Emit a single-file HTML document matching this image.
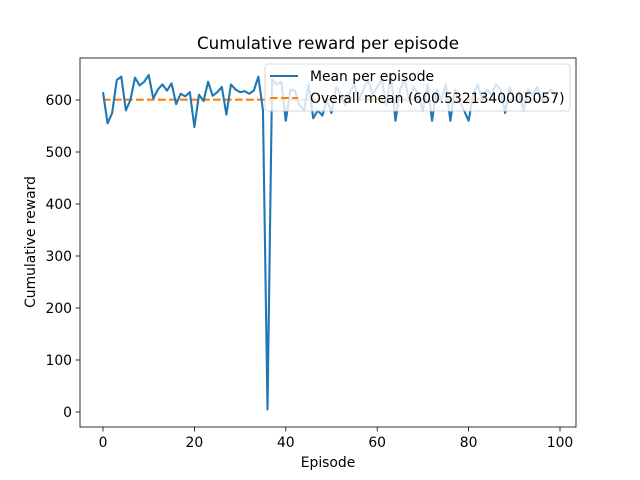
<!DOCTYPE html>
<html><head><meta charset="utf-8"><style>
body{margin:0;background:#fff}
svg{display:block;font-family:"DejaVu Sans","Liberation Sans",sans-serif}
</style></head><body>
<svg id="chart" width="640" height="480" viewBox="0 0 640 480">
<rect width="640" height="480" fill="#fff"/>
<text x="328" y="49" font-size="16.7" text-anchor="middle">Cumulative reward per episode</text>
<g id="plot"></g>
<rect x="80" y="58" width="496" height="369" fill="none" stroke="#000" stroke-width="0.8"/>
<g id="ticks" font-size="13.9"></g>
<text x="328" y="467" font-size="13.9" text-anchor="middle">Episode</text>
<text x="35" y="242" font-size="13.9" text-anchor="middle" transform="rotate(-90 35 242)">Cumulative reward</text>
<g>
<rect x="265" y="64" width="305" height="47" rx="3" fill="#fff" fill-opacity="0.8" stroke="#ccc" stroke-width="0.8"/>
<line x1="270" y1="76" x2="298" y2="76" stroke="#1f77b4" stroke-width="2.1"/>
<text x="310" y="81" font-size="13.9">Mean per episode</text>
<line x1="270" y1="98" x2="298" y2="98" stroke="#ff7f0e" stroke-width="2.1" stroke-dasharray="7.7,3.3"/>
<text x="310" y="103" font-size="13.9">Overall mean (600.5321340005057)</text>
</g>
</svg>
<script>
const episodes=[...Array(100).keys()];
const rewards=[615,555,575,638,645,580,600,643,628,635,648,603,620,630,618,632,592,612,607,615,548,610,598,635,608,615,625,572,630,620,615,617,612,618,645,580,5,640,630,635,560,620,618,590,580,630,565,580,570,600,575,625,610,590,615,630,600,620,640,610,625,640,590,650,560,620,640,600,625,610,580,630,560,620,600,630,560,620,600,580,560,610,630,600,620,610,630,620,575,625,600,615,580,620,610,625,600,610,620,605];
const overallMean=600.5321340005057;
const xTicks=[0,20,40,60,80,100];
const yTicks=[0,100,200,300,400,500,600];
const X=v=>103+v*4.57, Y=v=>412-v*0.52;
const NS="http://www.w3.org/2000/svg";
const plot=document.getElementById('plot'), ticks=document.getElementById('ticks');
function mk(tag,attrs,parent){const e=document.createElementNS(NS,tag);for(const k in attrs)e.setAttribute(k,attrs[k]);parent.appendChild(e);return e;}
const ml=mk('line',{x1:X(0),x2:X(episodes.length-1),y1:Y(overallMean),y2:Y(overallMean),stroke:'#ff7f0e','stroke-width':2.1,'stroke-dasharray':'7.7,3.3'},plot);


const pl=mk('polyline',{points:episodes.map((e,i)=>X(e)+','+Y(rewards[i])).join(' '),fill:'none',stroke:'#1f77b4','stroke-width':2.1,'stroke-linejoin':'round'},plot);


xTicks.forEach(t=>{
  const l=mk('line',{x1:X(t),x2:X(t),y1:427,y2:431.5,stroke:'#000','stroke-width':0.8},ticks);
  
  
  const s=mk('text',{x:X(t),y:447,'text-anchor':'middle'},ticks);s.textContent=t;
  
  
});
yTicks.forEach(t=>{
  const l=mk('line',{x1:75.5,x2:80,y1:Y(t),y2:Y(t),stroke:'#000','stroke-width':0.8},ticks);
  
  
  const s=mk('text',{x:72,y:Y(t)+5,'text-anchor':'end'},ticks);s.textContent=t;
  
  
});
</script>
</body></html>
